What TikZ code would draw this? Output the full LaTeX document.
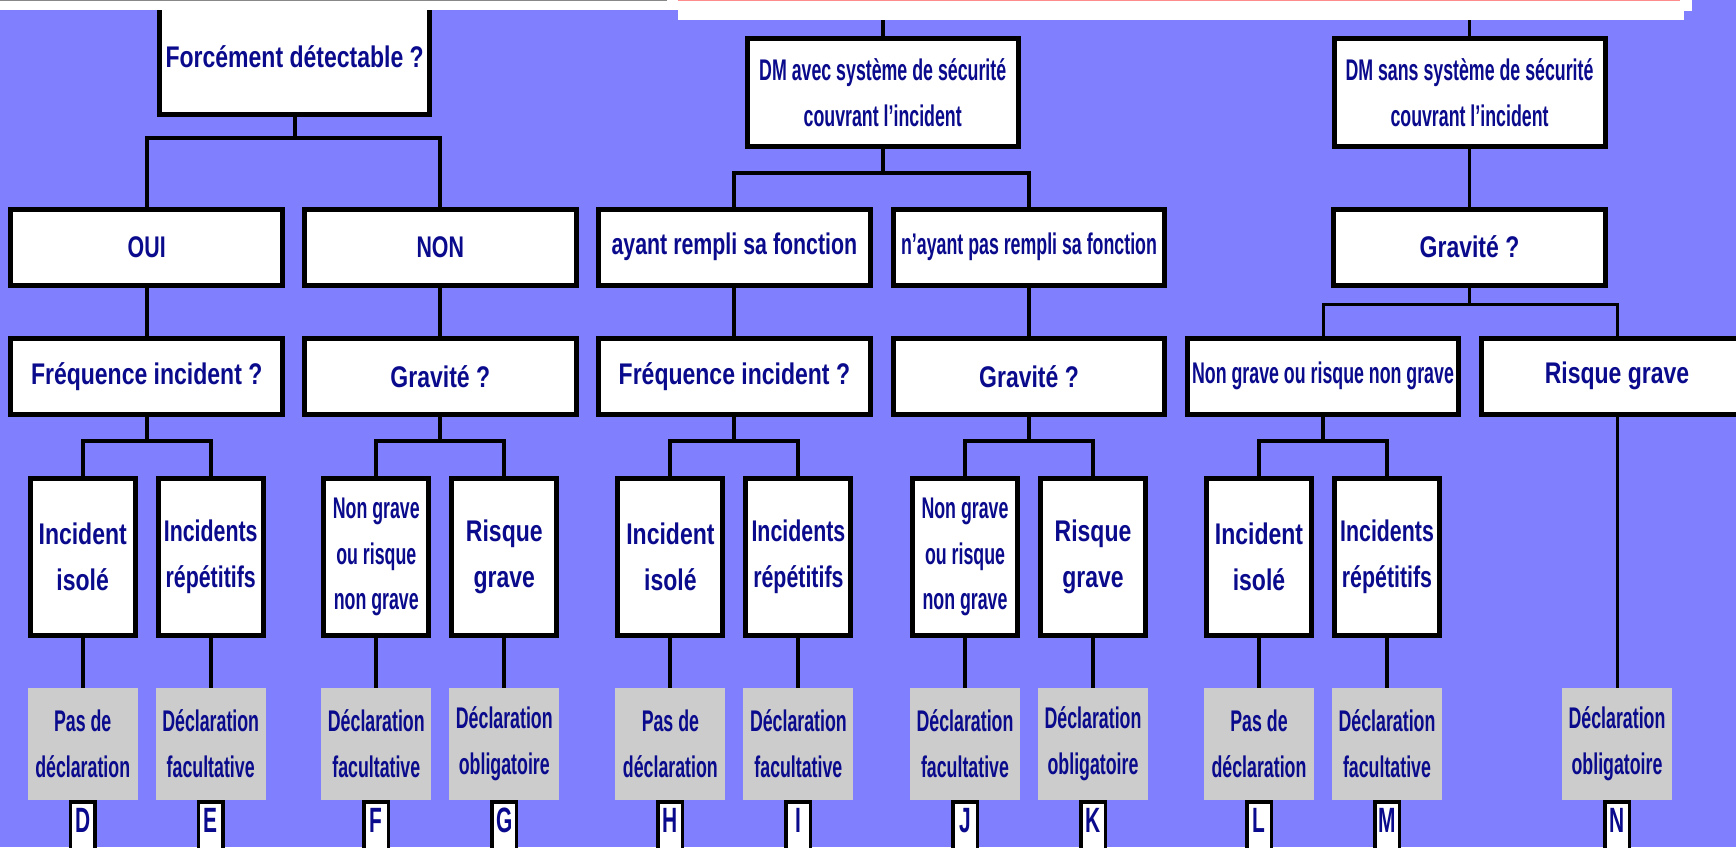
\documentclass[tikz,border=0pt]{standalone}
\usepackage{fontspec}
\setmainfont{Liberation Sans}
\newfontfamily\widefam{Liberation Sans Bold}[FakeStretch=0.77]
\newfontfamily\midfam{Liberation Sans Bold}[FakeStretch=0.715]
\newfontfamily\narrowfam{Liberation Sans Bold}[FakeStretch=0.595]
\newcommand{\fwide}{\widefam\fontsize{17}{26}\selectfont}
\newcommand{\fmid}{\midfam\fontsize{17}{26}\selectfont}
\newcommand{\fnarrow}{\narrowfam\fontsize{17}{26}\selectfont}
\usepackage{tikz}
\usetikzlibrary{positioning}

\definecolor{bgblue}{RGB}{128,128,255}
\definecolor{ink}{RGB}{10,10,140}
\definecolor{cellgray}{RGB}{204,204,204}
\definecolor{rulegray}{RGB}{136,136,136}
\definecolor{rulepink}{RGB}{255,140,140}

\tikzset{
  box/.style={draw=black, line width=1mm, fill=white, text=ink, align=center, inner sep=0pt, font=\fwide},
  qbox/.style={box, minimum width=54.3mm, minimum height=15.2mm},
  dmbox/.style={box, minimum width=54.2mm, minimum height=21.6mm, font=\fnarrow},
  tallbox/.style={box, minimum width=21mm, minimum height=31.4mm},
  result/.style={fill=cellgray, text=ink, align=center, inner sep=0pt, minimum width=22mm, minimum height=22.4mm, font=\fnarrow},
  letterbox/.style={draw=black, line width=0.7mm, fill=white, text=ink, anchor=north, inner sep=0pt, minimum width=4.9mm, text height=6.1mm, text depth=12mm, font=\narrowfam\fontsize{20}{24}\selectfont},
  link/.style={line width=0.8mm},
  thinlink/.style={line width=0.6mm}
}

\begin{document}
\begin{tikzpicture}[x=0.2mm, y=-0.2mm]
\useasboundingbox (0,0) rectangle (1736,847);
\fill[bgblue] (0,0) rectangle (1736,847);
\clip (0,0) rectangle (1736,847);

\node[box, minimum width=54mm, minimum height=23mm] (forc) at (294.7,57) {Forcément détectable ?};
\node[dmbox] (avec) at (882.7,92.5) {DM avec système de sécurité\\couvrant l’incident};
\node[dmbox] (sans) at (1469.5,92.5) {DM sans système de sécurité\\couvrant l’incident};

\node[qbox, font=\fmid] (oui) at (146.7,247) {OUI};
\node[qbox, font=\fmid] (non) at (440.3,247) {NON};
\node[qbox, font=\fmid] (ayant) at (734.4,247) {ayant rempli sa fonction};
\node[qbox, font=\fnarrow] (nayant) at (1029,247) {n’ayant pas rempli sa fonction};
\node[qbox] (grav3) at (1469.5,247) {Gravité ?};

\node[qbox] (freq1) at (146.7,376.3) {Fréquence incident ?};
\node[qbox] (grav1) at (440.3,376.3) {Gravité ?};
\node[qbox] (freq2) at (734.4,376.3) {Fréquence incident ?};
\node[qbox] (grav2) at (1029,376.3) {Gravité ?};
\node[qbox, font=\fnarrow] (ngrave) at (1323,376.3) {Non grave ou risque non grave};
\node[qbox] (rgrave) at (1617,376.3) {Risque grave};

\node[tallbox] (iso1) at (82.7,557) {Incident\\isolé};
\node[tallbox, font=\fmid] (rep1) at (210.7,557) {Incidents\\répétitifs};
\node[tallbox, font=\fnarrow] (ng1) at (376.3,557) {Non grave\\ou risque\\non grave};
\node[tallbox] (rg1) at (504.3,557) {Risque\\grave};
\node[tallbox] (iso2) at (670.4,557) {Incident\\isolé};
\node[tallbox, font=\fmid] (rep2) at (798.4,557) {Incidents\\répétitifs};
\node[tallbox, font=\fnarrow] (ng2) at (965,557) {Non grave\\ou risque\\non grave};
\node[tallbox] (rg2) at (1093,557) {Risque\\grave};
\node[tallbox] (iso3) at (1259,557) {Incident\\isolé};
\node[tallbox, font=\fmid] (rep3) at (1387,557) {Incidents\\répétitifs};

\node[result] (pD) at (82.7,744) {Pas de\\déclaration};
\node[result] (pE) at (210.7,744) {Déclaration\\facultative};
\node[result] (pF) at (376.3,744) {Déclaration\\facultative};
\node[result] (pG) at (504.3,744) {Déclaration\\obligatoire};
\node[result] (pH) at (670.4,744) {Pas de\\déclaration};
\node[result] (pI) at (798.4,744) {Déclaration\\facultative};
\node[result] (pJ) at (965,744) {Déclaration\\facultative};
\node[result] (pK) at (1093,744) {Déclaration\\obligatoire};
\node[result] (pL) at (1259,744) {Pas de\\déclaration};
\node[result] (pM) at (1387,744) {Déclaration\\facultative};
\node[result] (pN) at (1617,744) {Déclaration\\obligatoire};

\node[letterbox] (lD) at (pD.south) {D};
\node[letterbox] (lE) at (pE.south) {E};
\node[letterbox] (lF) at (pF.south) {F};
\node[letterbox] (lG) at (pG.south) {G};
\node[letterbox] (lH) at (pH.south) {H};
\node[letterbox] (lI) at (pI.south) {I};
\node[letterbox] (lJ) at (pJ.south) {J};
\node[letterbox] (lK) at (pK.south) {K};
\node[letterbox] (lL) at (pL.south) {L};
\node[letterbox] (lM) at (pM.south) {M};
\node[letterbox] (lN) at (pN.south) {N};

\coordinate (top2) at (882.7,15);
\coordinate (top3) at (1469.5,15);
\coordinate (j1) at (294.7,138);
\coordinate (j2) at (882.7,173);
\coordinate (j3) at (1469.5,304.5);
\coordinate (j4) at (146.7,441.3);
\coordinate (j5) at (440.3,441.3);
\coordinate (j6) at (734.4,441.3);
\coordinate (j7) at (1029,441.3);
\coordinate (j8) at (1323,441.3);

\draw[link] (top2) -- (avec);
\draw[thinlink] (top3) -- (sans) -- (grav3);
\draw[link] (forc) -- (j1) (oui.north) |- (j1) -| (non.north);
\draw[link] (avec) -- (j2) (ayant.north) |- (j2) -| (nayant.north);
\draw[thinlink] (grav3) -- (j3) (ngrave.north) |- (j3) -| (rgrave.north);
\draw[link] (oui) -- (freq1) (non) -- (grav1) (ayant) -- (freq2) (nayant) -- (grav2);
\draw[link] (freq1) -- (j4) (iso1.north) |- (j4) -| (rep1.north);
\draw[link] (grav1) -- (j5) (ng1.north) |- (j5) -| (rg1.north);
\draw[link] (freq2) -- (j6) (iso2.north) |- (j6) -| (rep2.north);
\draw[link] (grav2) -- (j7) (ng2.north) |- (j7) -| (rg2.north);
\draw[link] (ngrave) -- (j8) (iso3.north) |- (j8) -| (rep3.north);
\draw[link] (iso1) -- (pD) (rep1) -- (pE) (ng1) -- (pF) (rg1) -- (pG)
  (iso2) -- (pH) (rep2) -- (pI) (ng2) -- (pJ) (rg2) -- (pK)
  (iso3) -- (pL) (rep3) -- (pM);
\draw[thinlink] (rgrave) -- (pN);

\fill[white] (0,0) rectangle (683,10.5);
\fill[white] (678,0) rectangle (1684,20);
\fill[white] (1684,0) rectangle (1692,11);
\fill[rulegray] (0,0) rectangle (667,1.3);
\fill[rulepink] (678,0) rectangle (1680,1.3);
\end{tikzpicture}
\end{document}
